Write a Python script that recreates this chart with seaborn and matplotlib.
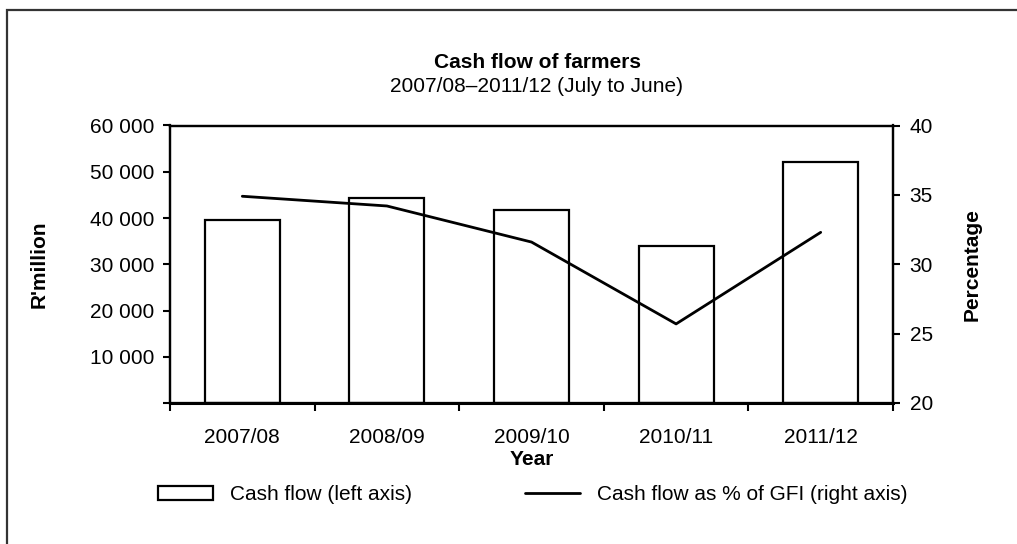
import numpy as np
import pandas as pd
import matplotlib
matplotlib.use("Agg")
import matplotlib.pyplot as plt
from matplotlib.patches import Patch, Rectangle
from matplotlib.lines import Line2D
from matplotlib.ticker import FuncFormatter, FixedLocator
import seaborn as sns

# data
years = ["2007/08", "2008/09", "2009/10", "2010/11", "2011/12"]
cash_flow = [39600, 44300, 41700, 33900, 52100]      # R'million, left axis
cash_pct = [34.9, 34.2, 31.6, 25.7, 32.3]             # % of GFI, right axis

sns.set_theme(style="white")
plt.rcParams["font.family"] = ["Liberation Sans", "DejaVu Sans"]
plt.rcParams.update({"text.color": "black", "axes.labelcolor": "black",
                     "xtick.color": "black", "ytick.color": "black"})
FS = 15

W, H = 1017, 544
fig = plt.figure(figsize=(W / 100, H / 100), dpi=100)
ax = fig.add_axes([170 / W, 1 - 403 / H, (893 - 170) / W, (403 - 125.5) / H])

df = pd.DataFrame({"year": years, "cash": cash_flow, "pct": cash_pct})

sns.barplot(data=df, x="year", y="cash", ax=ax, color="white",
            edgecolor="black", linewidth=1.6, width=0.52, saturation=1)
ax.set_xlim(-0.5, len(years) - 0.5)
ax.set_ylim(0, 60000)
ax.set_yticks(np.arange(0, 60001, 10000))
ax.yaxis.set_major_formatter(FuncFormatter(
    lambda v, p: "" if v == 0 else f"{int(v):,}".replace(",", " ")))
ax.set_xlabel("Year", fontsize=FS, fontweight="bold", labelpad=2)
ax.set_ylabel("R'million", fontsize=FS, fontweight="bold", labelpad=30)

# category ticks sit at the boundaries, labels at the centres
ax.tick_params(axis="x", which="major", length=0, labelsize=FS, pad=18)
ax.xaxis.set_minor_locator(FixedLocator(np.arange(-0.5, len(years), 1.0)))
ax.tick_params(axis="x", which="minor", bottom=True, length=6, width=1.5,
               direction="out", color="black")
ax.tick_params(axis="y", left=True, length=5, width=1.5, labelsize=FS,
               color="black", pad=6, direction="out")

ax2 = ax.twinx()
sns.lineplot(x=np.arange(len(years)), y=cash_pct, ax=ax2, color="black",
             linewidth=2)
ax2.set_ylim(20, 40)
ax2.set_yticks(np.arange(20, 41, 5))
ax2.set_ylabel("Percentage", fontsize=FS, fontweight="bold", labelpad=21)
ax2.tick_params(axis="y", right=True, length=5, width=1.5, labelsize=FS,
                color="black", pad=7, direction="out")
ax2.set_xlim(-0.5, len(years) - 0.5)

for a in (ax, ax2):
    for s in a.spines.values():
        s.set_visible(True)
        s.set_color("black")
        s.set_linewidth(1.6)
ax.spines["bottom"].set_linewidth(2.2)

fig.text(537 / W, 1 - 62 / H, "Cash flow of farmers", ha="center",
         va="center", fontsize=FS, fontweight="bold")
fig.text(537 / W, 1 - 87 / H, "2007/08\u20132011/12 (July to June)",
         ha="center", va="center", fontsize=FS)

handles = [Patch(facecolor="white", edgecolor="black", linewidth=1.6),
           Line2D([0], [0], color="black", linewidth=2)]
labels = ["Cash flow (left axis)", "Cash flow as % of GFI (right axis)"]
fig.legend(handles, labels, loc="center left", ncol=2, frameon=False,
           bbox_to_anchor=(143 / W, 1 - 495 / H), fontsize=FS,
           handlelength=2.64, handleheight=0.63, handletextpad=0.82,
           columnspacing=5.45, borderpad=0.2)

# outer frame, open at right and bottom edges like the source
fig.patches.append(Rectangle((7 / W, -0.05), 1.1, 1 - 10 / H + 0.05,
                             transform=fig.transFigure, fill=False,
                             edgecolor="#333333", linewidth=1.6))

fig.savefig("out.png", dpi=100)
